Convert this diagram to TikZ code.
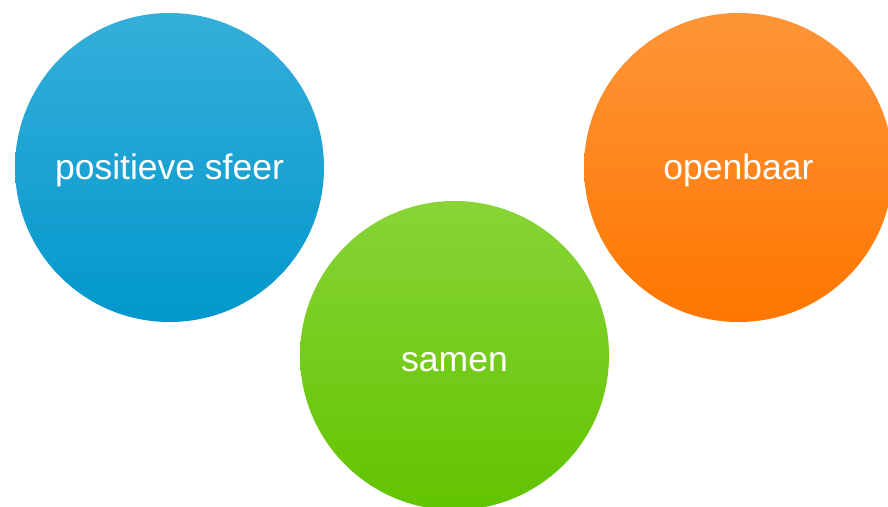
\documentclass[tikz,border=0pt]{standalone}
\usepackage{fontspec}
\setmainfont{Liberation Sans}
\definecolor{bluetop}{HTML}{35AEDA}
\definecolor{bluebot}{HTML}{0298CC}
\definecolor{greentop}{HTML}{88D437}
\definecolor{greenbot}{HTML}{62C400}
\definecolor{orangetop}{HTML}{FF9538}
\definecolor{orangebot}{HTML}{FF7600}
\begin{document}
\begin{tikzpicture}[x=1pt,y=1pt,
  bubble/.style={circle, minimum size=309pt, inner sep=0pt, text=white,
    font=\fontsize{35.5}{40}\selectfont, shading=axis, shading angle=0,
    text height=25pt, text depth=0pt}]
\useasboundingbox (0,0) rectangle (888,506);
\clip (0,0) rectangle (888,506);
\node[bubble, top color=bluetop, bottom color=bluebot] (pos) at (169.5,338.5) {positieve sfeer};
\node[bubble, top color=orangetop, bottom color=orangebot] (open) at (738.5,338.5) {openbaar};
\node[bubble, top color=greentop, bottom color=greenbot, text height=33pt] (sam) at (454.5,150.5) {samen};
\end{tikzpicture}
\end{document}
